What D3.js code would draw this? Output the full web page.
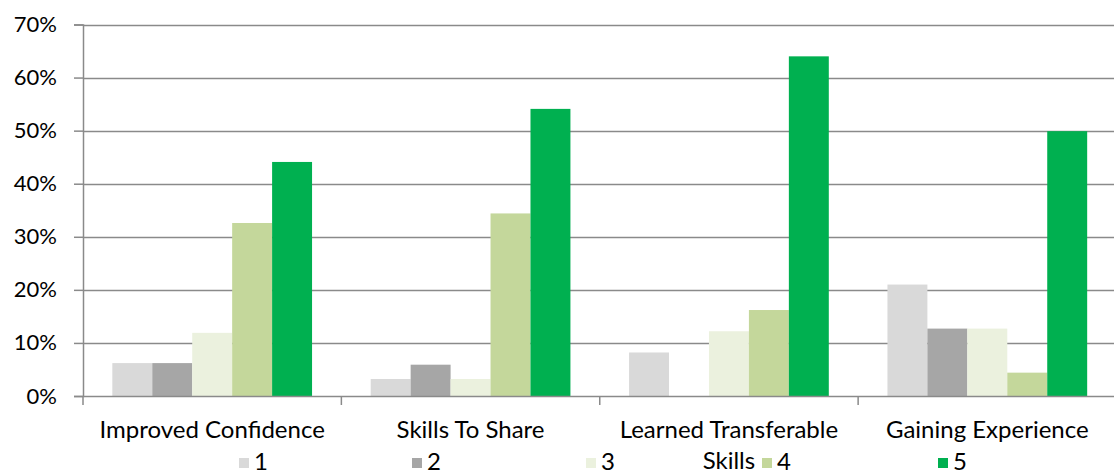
<!DOCTYPE html>
<html>
<head>
<meta charset="utf-8">
<script src="https://cdn.jsdelivr.net/npm/d3@7"></script>
<style>
  html, body { margin: 0; padding: 0; background: #fff; }
  svg { display: block; }
  text { font-family: Lato, "Open Sans", sans-serif; fill: #000; }
</style>
</head>
<body>
<svg id="chart" width="1114" height="473"></svg>
<script>
const categories = ["Improved Confidence", "Skills To Share", "Learned Transferable Skills", "Gaining Experience"];
const seriesNames = ["1", "2", "3", "4", "5"];
const series1 = [0.062, 0.032, 0.082, 0.210];
const series2 = [0.062, 0.059, 0.000, 0.127];
const series3 = [0.119, 0.032, 0.122, 0.127];
const series4 = [0.326, 0.344, 0.162, 0.044];
const series5 = [0.441, 0.541, 0.640, 0.499];
const seriesValues = [series1, series2, series3, series4, series5];
const colors = ["#D9D9D9", "#A6A6A6", "#EBF1DE", "#C4D79B", "#00B050"];
const yTicks = [0, 0.1, 0.2, 0.3, 0.4, 0.5, 0.6, 0.7];

const svg = d3.select("#chart");
const mLeft = 83, mRight = 1116.5, mTop = 24.5, mBottom = 396;

const x = d3.scaleBand().domain(categories).range([mLeft, mRight]).padding(0);
const bw = x.bandwidth();
const xInner = d3.scaleBand().domain(seriesNames)
  .range([bw * 0.1135, bw * 0.8865]).padding(0);
const y = d3.scaleLinear().domain([0, 0.7]).range([mBottom, mTop]);

// gridlines
svg.append("g").selectAll("line").data(yTicks.filter(d => d > 0)).join("line")
  .attr("x1", mLeft).attr("x2", 1114)
  .attr("y1", d => Math.round(y(d)) + 0.5).attr("y2", d => Math.round(y(d)) + 0.5)
  .attr("stroke", "#8A8A8A").attr("stroke-width", 1.5);

// bars
const rows = [];
categories.forEach((c, i) => seriesNames.forEach((s, j) => rows.push({c, s, j, v: seriesValues[j][i]})));
svg.append("g").selectAll("rect").data(rows.filter(d => d.v > 0)).join("rect")
  .attr("x", d => x(d.c) + xInner(d.s))
  .attr("width", xInner.bandwidth())
  .attr("y", d => y(d.v))
  .attr("height", d => y(0) - y(d.v))
  .attr("fill", d => colors[d.j]);

// y axis
const yAxis = svg.append("g").attr("transform", `translate(${mLeft},0)`)
  .call(d3.axisLeft(y).tickValues(yTicks).tickFormat(d3.format(".0%")).tickSize(9).tickPadding(17));
yAxis.select(".domain").attr("stroke", "#8A8A8A").attr("stroke-width", 1.5);
yAxis.selectAll(".tick line").attr("stroke", "#8A8A8A").attr("stroke-width", 1.5);
yAxis.selectAll(".tick text").style("font-size", "22px").style("font-family", "Lato, sans-serif").attr("fill", "#000");

// x axis
const xAxis = svg.append("g").attr("transform", `translate(0,${mBottom})`)
  .call(d3.axisBottom(x).tickSize(0).tickFormat(""));
xAxis.select(".domain").attr("stroke", "#8A8A8A").attr("stroke-width", 1.5);
// category dividers
svg.append("g").selectAll("line").data(categories.slice(1)).join("line")
  .attr("x1", d => x(d)).attr("x2", d => x(d))
  .attr("y1", mBottom).attr("y2", mBottom + 9)
  .attr("stroke", "#8A8A8A").attr("stroke-width", 1.5);
svg.append("line").attr("x1", mLeft).attr("x2", mLeft).attr("y1", mBottom).attr("y2", mBottom + 9)
  .attr("stroke", "#8A8A8A").attr("stroke-width", 1.5);

// category labels
const catLines = {
  "Improved Confidence": ["Improved Confidence"],
  "Skills To Share": ["Skills To Share"],
  "Learned Transferable Skills": ["Learned Transferable", "Skills"],
  "Gaining Experience": ["Gaining Experience"]
};
const lab = svg.append("g").selectAll("text").data(categories).join("text")
  .attr("x", d => x(d) + bw / 2).attr("y", 438)
  .attr("text-anchor", "middle").style("font-size", "24px");
lab.selectAll("tspan").data(d => catLines[d]).join("tspan")
  .attr("x", function() { return this.parentNode.getAttribute("x"); })
  .attr("dy", (d, i) => i === 0 ? 0 : 31)
  .text(d => d);

// legend
const legendX = [239, 412, 586, 762, 938];
const lg = svg.append("g").selectAll("g").data(seriesNames).join("g")
  .attr("transform", (d, i) => `translate(${legendX[i]},458)`);
lg.append("rect").attr("width", 10).attr("height", 10).attr("fill", (d, i) => colors[i]);
lg.append("text").attr("x", 15).attr("y", 11.5).style("font-size", "24px").text(d => d);
</script>
</body>
</html>
